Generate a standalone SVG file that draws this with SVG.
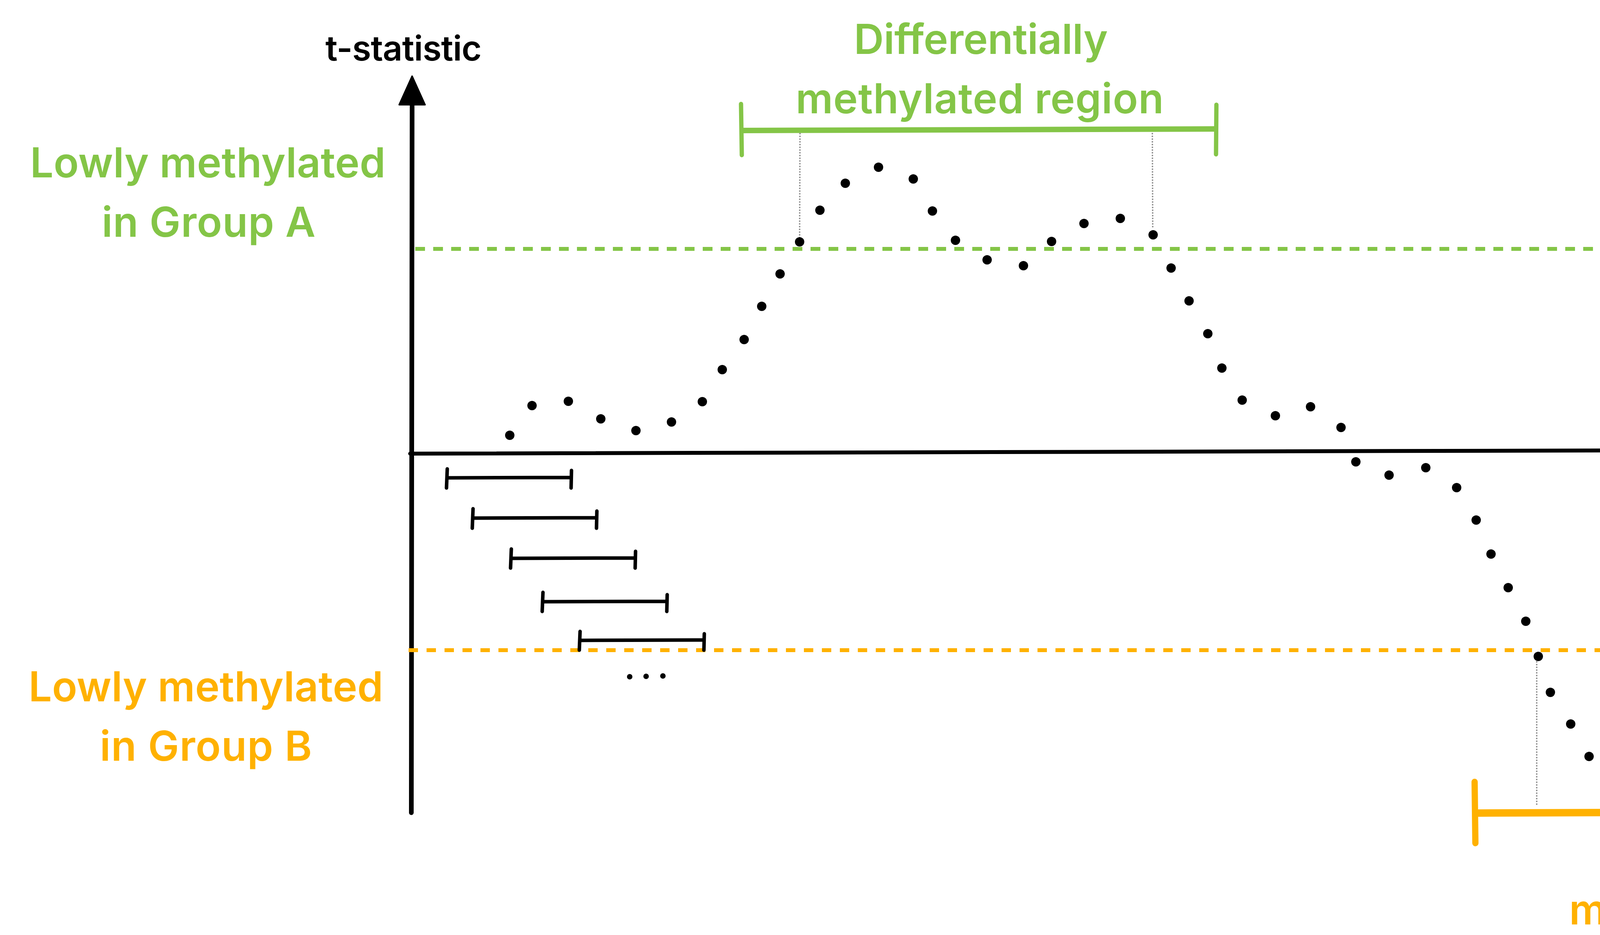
<svg xmlns="http://www.w3.org/2000/svg" width="7000" height="2393" viewBox="0 0 7000 2393">
<style>
.lbl{font-family:Inter,"Liberation Sans",sans-serif;font-weight:600;text-anchor:middle}
.g{fill:#84C547}
.o{fill:#FFB100}
.k{fill:#000}
.dot{fill:#000}
.gray{stroke:#8a8a8a;stroke-width:4;stroke-dasharray:0 7;stroke-linecap:round;fill:none}
.rng{stroke:#000;stroke-width:9;stroke-linecap:round;fill:none}
</style>
<rect width="7000" height="2393" fill="#fff"/>
<g id="axes">
<line x1="1055" y1="262" x2="1053" y2="2080" stroke="#000" stroke-width="12" stroke-linecap="round"/>
<polygon points="1055,195 1088,268 1022,268" fill="#000" stroke="#000" stroke-width="4" stroke-linejoin="round"/>
<line x1="1050" y1="1161" x2="5585" y2="1149" stroke="#000" stroke-width="10" stroke-linecap="round"/>
<text class="lbl k" x="1033" y="155" font-size="88" textLength="400">t-statistic</text>
<text class="lbl k" x="5808" y="1264" font-size="88" textLength="572">chromosome</text>
<circle class="dot" cx="5653" cy="1147" r="7"/>
<circle class="dot" cx="5705" cy="1147" r="7"/>
<circle class="dot" cx="5758" cy="1147" r="7"/>
</g>
<g id="threshold-A">
<line x1="1063" y1="637" x2="5585" y2="637" stroke="#84C547" stroke-width="10" stroke-dasharray="25 21"/>
<text class="lbl g" font-size="106"><tspan x="532" y="454" textLength="910">Lowly methylated</tspan><tspan x="534" y="606" textLength="547">in Group A</tspan></text>
</g>
<g id="threshold-B">
<line x1="1046" y1="1664" x2="5570" y2="1664" stroke="#FFB100" stroke-width="10" stroke-dasharray="24 22"/>
<text class="lbl o" font-size="106"><tspan x="527" y="1795" textLength="908">Lowly methylated</tspan><tspan x="527" y="1947" textLength="543">in Group B</tspan></text>
</g>
<g id="windows">
<path class="rng" d="M1145,1200 L1143,1249 M1144,1223 L1462,1222 M1463,1204 L1462,1249"/>
<path class="rng" d="M1211,1302 L1209,1352 M1210,1326 L1527,1325 M1528,1308 L1527,1352"/>
<path class="rng" d="M1309,1405 L1307,1454 M1308,1429 L1626,1428 M1627,1411 L1626,1454"/>
<path class="rng" d="M1390,1516 L1388,1565 M1389,1540 L1707,1539 M1708,1522 L1707,1565"/>
<path class="rng" d="M1485,1616 L1483,1664 M1484,1639 L1802,1638 M1803,1622 L1802,1664"/>
<circle class="dot" cx="1612" cy="1732" r="7"/>
<circle class="dot" cx="1654" cy="1731" r="7"/>
<circle class="dot" cx="1697" cy="1730" r="7"/>
</g>
<g id="dmr-A">
<line x1="1898" y1="334" x2="3113" y2="330" stroke="#84C547" stroke-width="14"/>
<line x1="1897" y1="266" x2="1899" y2="397" stroke="#84C547" stroke-width="11" stroke-linecap="round"/>
<line x1="3114" y1="268" x2="3113" y2="395" stroke="#84C547" stroke-width="11" stroke-linecap="round"/>
<line class="gray" x1="2048" y1="342" x2="2047" y2="612"/>
<line class="gray" x1="2950" y1="342" x2="2951" y2="585"/>
<text class="lbl g" font-size="106"><tspan x="2511" y="138" textLength="650">Differentially</tspan><tspan x="2508" y="290" textLength="942">methylated region</tspan></text>
</g>
<g id="dmr-B">
<line x1="3780" y1="2081" x2="5178" y2="2075" stroke="#FFB100" stroke-width="19"/>
<line x1="3775" y1="2001" x2="3777" y2="2158" stroke="#FFB100" stroke-width="16" stroke-linecap="round"/>
<line x1="5182" y1="2005" x2="5181" y2="2154" stroke="#FFB100" stroke-width="16" stroke-linecap="round"/>
<line class="gray" x1="3934" y1="1694" x2="3934" y2="2065"/>
<line class="gray" x1="4998" y1="1685" x2="4998" y2="2061"/>
<text class="lbl o" font-size="106"><tspan x="4489" y="2213" textLength="650">Differentially</tspan><tspan x="4486" y="2366" textLength="938">methylated region</tspan></text>
</g>
<g id="data-points" class="dot">
<circle cx="1305" cy="1114" r="12"/><circle cx="1362" cy="1038" r="12"/><circle cx="1455" cy="1027" r="12"/><circle cx="1538" cy="1072" r="12"/><circle cx="1628" cy="1102" r="12"/><circle cx="1719" cy="1080" r="12"/><circle cx="1798" cy="1028" r="12"/><circle cx="1849" cy="946" r="12"/><circle cx="1905" cy="869" r="12"/><circle cx="1950" cy="784" r="12"/><circle cx="1997" cy="701" r="12"/><circle cx="2047" cy="619" r="12"/><circle cx="2099" cy="538" r="12"/><circle cx="2164" cy="469" r="12"/><circle cx="2249" cy="428" r="12"/><circle cx="2338" cy="458" r="12"/><circle cx="2387" cy="540" r="12"/><circle cx="2446" cy="615" r="12"/><circle cx="2527" cy="665" r="12"/><circle cx="2620" cy="680" r="12"/><circle cx="2692" cy="618" r="12"/><circle cx="2775" cy="572" r="12"/><circle cx="2868" cy="559" r="12"/><circle cx="2952" cy="601" r="12"/><circle cx="2998" cy="686" r="12"/><circle cx="3044" cy="770" r="12"/><circle cx="3092" cy="854" r="12"/><circle cx="3128" cy="942" r="12"/><circle cx="3180" cy="1024" r="12"/><circle cx="3265" cy="1064" r="12"/><circle cx="3355" cy="1041" r="12"/><circle cx="3433" cy="1094" r="12"/><circle cx="3471" cy="1182" r="12"/><circle cx="3556" cy="1216" r="12"/><circle cx="3650" cy="1197" r="12"/><circle cx="3729" cy="1248" r="12"/><circle cx="3779" cy="1331" r="12"/><circle cx="3817" cy="1418" r="12"/><circle cx="3861" cy="1504" r="12"/><circle cx="3906" cy="1590" r="12"/><circle cx="3938" cy="1680" r="12"/><circle cx="3969" cy="1772" r="12"/><circle cx="4021" cy="1853" r="12"/><circle cx="4068" cy="1936" r="12"/><circle cx="4150" cy="1986" r="12"/><circle cx="4242" cy="1973" r="12"/><circle cx="4330" cy="1940" r="12"/><circle cx="4390" cy="1865" r="12"/><circle cx="4446" cy="1788" r="12"/><circle cx="4506" cy="1713" r="12"/><circle cx="4597" cy="1693" r="12"/><circle cx="4671" cy="1754" r="12"/><circle cx="4761" cy="1781" r="12"/><circle cx="4833" cy="1718" r="12"/><circle cx="4908" cy="1662" r="12"/><circle cx="5002" cy="1669" r="12"/><circle cx="5049" cy="1587" r="12"/><circle cx="5088" cy="1498" r="12"/><circle cx="5122" cy="1408" r="12"/><circle cx="5165" cy="1323" r="12"/><circle cx="5204" cy="1234" r="12"/><circle cx="5245" cy="1148" r="12"/><circle cx="5301" cy="1070" r="12"/><circle cx="5381" cy="1019" r="12"/><circle cx="5459" cy="1073" r="12"/><circle cx="5552" cy="1067" r="12"/>
</g>
</svg>
